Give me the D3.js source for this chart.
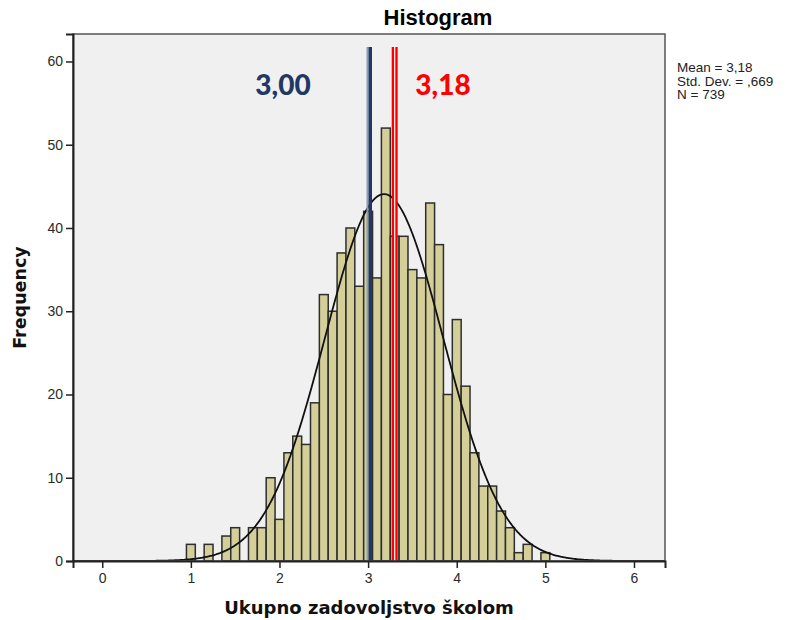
<!DOCTYPE html>
<html>
<head>
<meta charset="utf-8">
<script src="https://cdn.jsdelivr.net/npm/d3@7"></script>
<style>
  body { margin: 0; background: #fff; }
  svg { display: block; }
  .tick text { font-family: "Liberation Sans", Arial, sans-serif; font-size: 14px; fill: #2a2a2a; }
</style>
</head>
<body>
<svg width="787" height="620"></svg>
<script>
// bin centres (width 0.1) and counts
var binCenters = [1.0, 1.2, 1.4, 1.5, 1.7, 1.8, 1.9, 2.0, 2.1, 2.2, 2.3, 2.4,
                  2.5, 2.6, 2.7, 2.8, 2.9, 3.0, 3.1, 3.2, 3.3, 3.4, 3.5, 3.6,
                  3.7, 3.8, 3.9, 4.0, 4.1, 4.2, 4.3, 4.4, 4.5, 4.6, 4.7, 4.8, 5.0];
var counts = [2, 2, 3, 4, 4, 4, 10, 5, 13, 15, 14, 19,
              32, 30, 37, 40, 33, 42, 34, 52, 39, 39, 35, 34,
              43, 38, 20, 29, 21, 13, 9, 9, 6, 4, 1, 2, 1];
var binWidth = 0.1;
var xTicks = [0, 1, 2, 3, 4, 5, 6];
var yTicks = [0, 10, 20, 30, 40, 50, 60];
var stats = { mean: 3.18, sd: 0.669, n: 739 };
var legendLines = ["Mean = 3,18", "Std. Dev. = ,669", "N = 739"];
// hand drawn marker lines: where they sit and what they say
var markerPos = [3.01, 3.30];
var markerText = ["3,00", "3,18"];

var svg = d3.select("svg");
var pLeft = 73, pRight = 665, pTop = 34, pBottom = 561;

var x = d3.scaleLinear().domain([-0.33, 6.35]).range([pLeft, pRight]);
var y = d3.scaleLinear().domain([0, 63.3]).range([pBottom, pTop]);

// plot background
svg.append("rect")
    .attr("x", pLeft).attr("y", pTop)
    .attr("width", pRight - pLeft).attr("height", pBottom - pTop)
    .attr("fill", "#f0f0f0");

// bars
svg.append("g")
    .selectAll("rect")
    .data(binCenters)
    .enter().append("rect")
    .attr("x", function(d) { return x(d - binWidth / 2); })
    .attr("width", function(d) { return x(d + binWidth / 2) - x(d - binWidth / 2); })
    .attr("y", function(d, i) { return y(counts[i]); })
    .attr("height", function(d, i) { return y(0) - y(counts[i]); })
    .attr("fill", "#d4cf99")
    .attr("stroke", "#2e2e2e")
    .attr("stroke-width", 1.5);

// normal curve
var scaleN = stats.n * binWidth / (stats.sd * Math.sqrt(2 * Math.PI));
var curvePts = d3.range(-0.33, 6.351, 0.01).map(function(v) {
    var z = (v - stats.mean) / stats.sd;
    return [v, scaleN * Math.exp(-0.5 * z * z)];
});
svg.append("path")
    .datum(curvePts)
    .attr("fill", "none")
    .attr("stroke", "#111")
    .attr("stroke-width", 1.8)
    .attr("d", d3.line()
        .x(function(d) { return x(d[0]); })
        .y(function(d) { return y(d[1]); }));

// marker lines
var lineTop = 47;
var bx = x(markerPos[0]);
svg.append("rect").attr("x", bx - 2.5).attr("y", lineTop).attr("width", 2)
    .attr("height", pBottom - lineTop).attr("fill", "#8c9db5");
svg.append("rect").attr("x", bx - 0.5).attr("y", lineTop).attr("width", 3.5)
    .attr("height", pBottom - lineTop).attr("fill", "#1f3864");

var rx = x(markerPos[1]);
svg.append("rect").attr("x", rx - 3).attr("y", lineTop).attr("width", 6)
    .attr("height", pBottom - lineTop).attr("fill", "#ff0000");
svg.append("rect").attr("x", rx - 0.6).attr("y", lineTop).attr("width", 1.2)
    .attr("height", pBottom - lineTop).attr("fill", "#fff");

svg.append("text")
    .attr("x", 283).attr("y", 95)
    .attr("text-anchor", "middle")
    .style("font-family", "Lato, 'Open Sans', sans-serif")
    .style("font-weight", "900")
    .style("font-size", "28px")
    .attr("fill", "#1f3864")
    .text(markerText[0]);
svg.append("text")
    .attr("x", 443).attr("y", 95)
    .attr("text-anchor", "middle")
    .style("font-family", "Lato, 'Open Sans', sans-serif")
    .style("font-weight", "900")
    .style("font-size", "28px")
    .attr("fill", "#ff0000")
    .text(markerText[1]);

// frame
svg.append("rect")
    .attr("x", pLeft).attr("y", pTop)
    .attr("width", pRight - pLeft).attr("height", pBottom - pTop)
    .attr("fill", "none")
    .attr("stroke", "#555")
    .attr("stroke-width", 1.5);

// axes
var xAxis = svg.append("g")
    .attr("transform", "translate(0," + pBottom + ")")
    .call(d3.axisBottom(x).tickValues(xTicks).tickSize(7).tickPadding(5).tickFormat(d3.format("d")));
var yAxis = svg.append("g")
    .attr("transform", "translate(" + pLeft + ",0)")
    .call(d3.axisLeft(y).tickValues(yTicks).tickSize(7).tickPadding(3).tickFormat(d3.format("d")));
[xAxis, yAxis].forEach(function(a) {
    a.select(".domain").attr("stroke", "#222").attr("stroke-width", 2);
    a.selectAll(".tick line").attr("stroke", "#222").attr("stroke-width", 1.5);
});

// titles
svg.append("text")
    .attr("x", 438).attr("y", 25)
    .attr("text-anchor", "middle")
    .style("font-family", "'Liberation Sans', Arial, sans-serif")
    .style("font-weight", "bold")
    .style("font-size", "22px")
    .text("Histogram");

svg.append("text")
    .attr("x", (pLeft + pRight) / 2).attr("y", 614)
    .attr("text-anchor", "middle")
    .style("font-family", "'DejaVu Sans', sans-serif")
    .style("font-weight", "bold")
    .style("font-size", "18px")
    .attr("fill", "#111")
    .text("Ukupno zadovoljstvo školom");

svg.append("text")
    .attr("transform", "translate(26," + ((pTop + pBottom) / 2) + ") rotate(-90)")
    .attr("text-anchor", "middle")
    .style("font-family", "'DejaVu Sans', sans-serif")
    .style("font-weight", "bold")
    .style("font-size", "17.5px")
    .attr("fill", "#111")
    .text("Frequency");

// legend
svg.append("g")
    .selectAll("text")
    .data(legendLines)
    .enter().append("text")
    .attr("x", 677)
    .attr("y", function(d, i) { return 72 + i * 13.5; })
    .style("font-family", "'Liberation Sans', Arial, sans-serif")
    .style("font-size", "13.5px")
    .attr("fill", "#222")
    .text(function(d) { return d; });
</script>
</body>
</html>
